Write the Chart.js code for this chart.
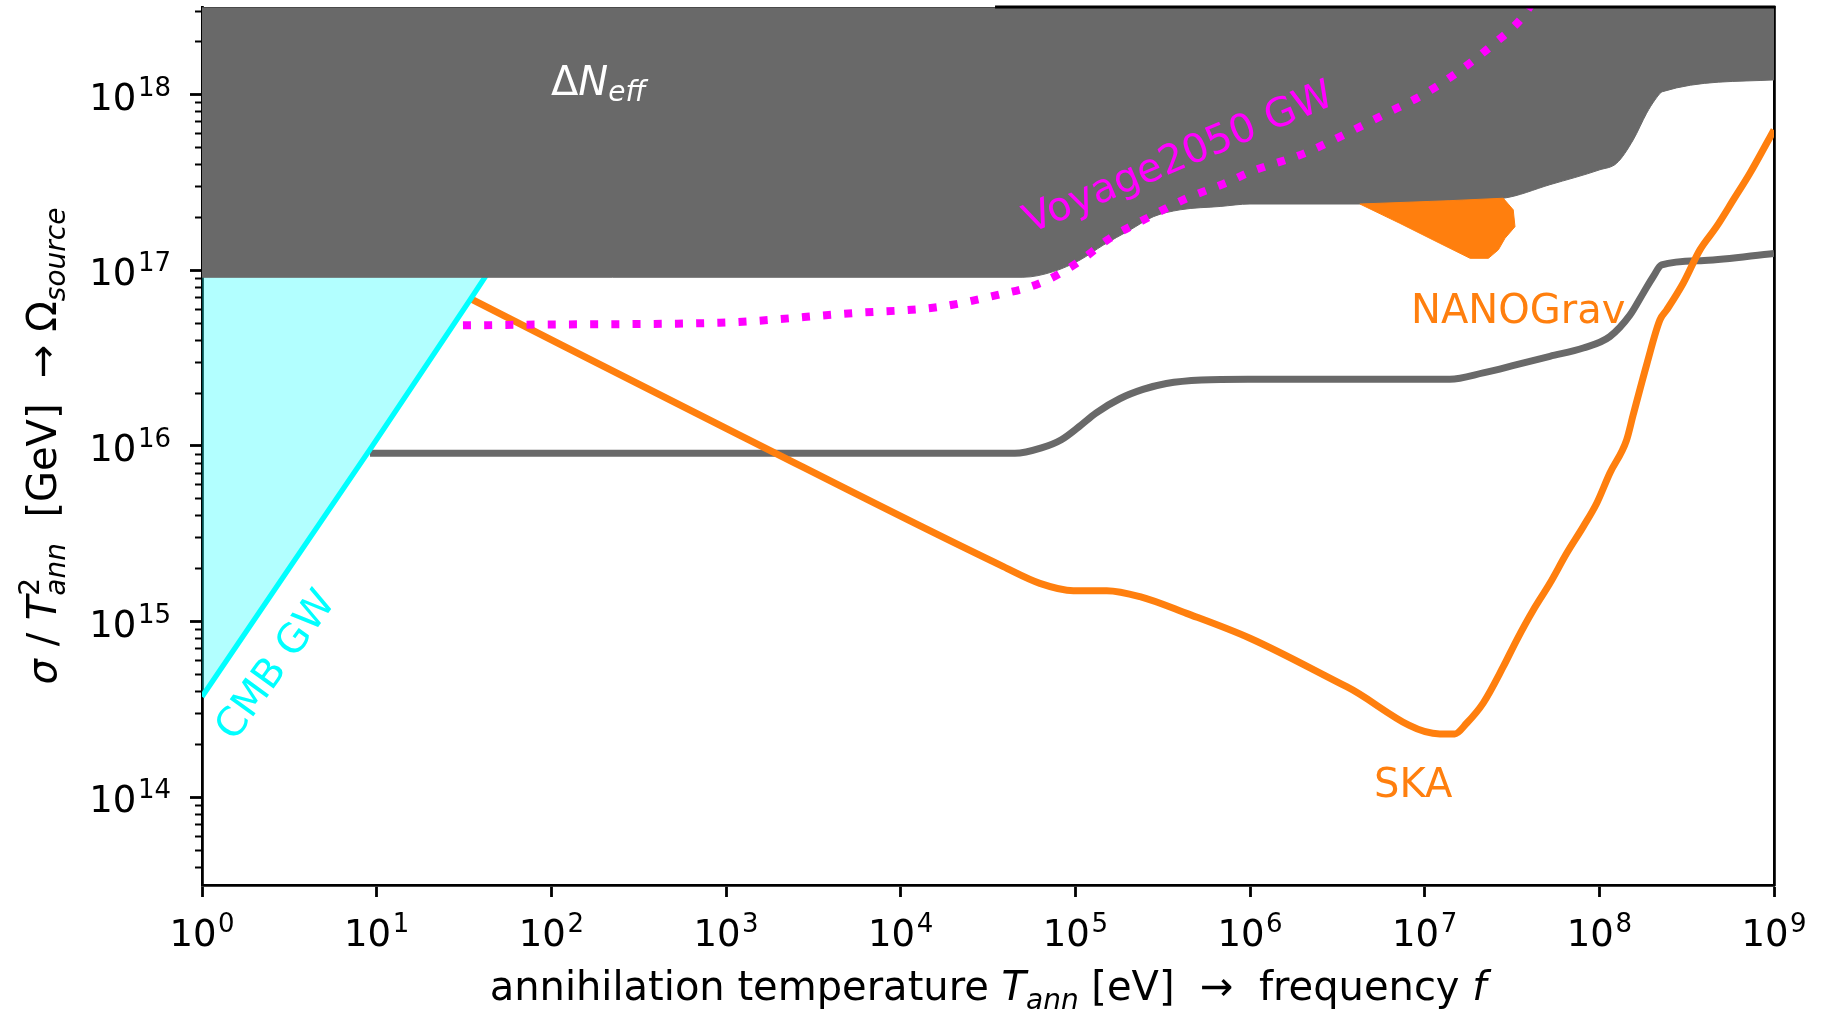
<!DOCTYPE html>
<html>
<head>
<meta charset="utf-8">
<title>Annihilation limits</title>
<script src="https://cdn.jsdelivr.net/npm/chart.js@4.4.1/dist/chart.umd.min.js"></script>
<style>
  html, body { margin: 0; padding: 0; background: #fff; }
  canvas { display: block; }
</style>
</head>
<body>
<canvas id="limits" width="1829" height="1013"></canvas>
<script>
// axes: annihilation temperature T_ann [eV] vs sigma / T_ann^2 [GeV]
const xRange = [1, 1e9];
const yRange = [3.162e13, 3.162e18];
const xTickValues = [1e0, 1e1, 1e2, 1e3, 1e4, 1e5, 1e6, 1e7, 1e8, 1e9];
const xTickLabels = ['0', '1', '2', '3', '4', '5', '6', '7', '8', '9'];
const yTickValues = [1e14, 1e15, 1e16, 1e17, 1e18];
const yTickLabels = ['14', '15', '16', '17', '18'];
const yMinorMantissas = [2, 3, 4, 5, 6, 7, 8, 9];

// Delta N_eff: lower edge of the excluded band (filled up to the top)
const nEffT = [1, 5.01e4, 7.48e4, 1.064e5, 1.445e5, 2.056e5, 2.799e5, 3.981e5, 6.745e5, 1e6,
  4.256e6, 1.393e7, 2.818e7, 5.212e7, 1.007e8, 1.256e8, 1.563e8, 1.866e8, 2.080e8, 2.301e8, 1e9];
const nEffSigma = [9.14e16, 9.14e16, 9.84e16, 1.146e17, 1.393e17, 1.698e17, 2.023e17, 2.213e17, 2.312e17, 2.388e17,
  2.388e17, 2.495e17, 2.576e17, 3.076e17, 3.741e17, 4.074e17, 5.534e17, 7.852e17, 9.333e17, 1.042e18, 1.216e18];

// CMB GW bound
const cmbT = [1, 3.162, 9.376, 34.20, 56.23];
const cmbSigma = [3.73e14, 2.018e15, 9.908e15, 6.776e16, 1.436e17];

// SKA sensitivity
const skaT = [35.08, 1202, 3.873e4, 6.266e4, 9.75e4, 1.514e5, 2.344e5, 4.335e5, 1e6, 3.573e6,
  1.222e7, 1.486e7, 1.738e7, 2.163e7, 2.818e7, 3.365e7, 4.188e7, 5.212e7, 6.501e7, 8.091e7,
  9.661e7, 1.148e8, 1.432e8, 1.563e8, 1.866e8, 2.223e8, 2.432e8, 3.02e8, 3.767e8, 4.688e8,
  5.848e8, 7.278e8, 1e9];
const skaSigma = [6.839e16, 1.15e16, 2.056e15, 1.652e15, 1.5e15, 1.5e15, 1.387e15, 1.114e15, 8.035e14, 4.256e14,
  2.291e14, 2.291e14, 2.636e14, 3.436e14, 5.534e14, 7.852e14, 1.164e15, 1.652e15, 2.449e15, 3.475e15,
  4.721e15, 7.0e15, 1.081e16, 1.507e16, 2.904e16, 5.224e16, 5.957e16, 8.453e16, 1.309e17, 1.774e17,
  2.518e17, 3.573e17, 6.31e17];

// Voyage2050 GW sensitivity
const voyageT = [31.19, 100, 922.6, 5358, 1.611e4, 3.548e4, 6.281e4, 1.019e5, 1.578e5, 2.673e5,
  4.345e5, 7.362e5, 1e6, 2.089e6, 3.491e6, 5.781e6, 9.572e6, 1.531e7, 2.377e7, 3.656e7, 4.169e7];
const voyageSigma = [4.864e16, 4.92e16, 5.035e16, 5.715e16, 6.166e16, 7.228e16, 8.453e16, 1.099e17, 1.524e17, 2.023e17,
  2.576e17, 3.162e17, 3.631e17, 4.677e17, 5.957e17, 7.674e17, 9.886e17, 1.337e18, 1.879e18, 2.786e18, 3.388e18];

// dim gray curve
const grayT = [9.16, 4.5e4, 6.397e4, 8.318e4, 1.047e5, 1.318e5, 1.795e5, 2.438e5, 3.319e5, 5.26e5,
  9.727e5, 1.393e7, 2.163e7, 3.365e7, 5.212e7, 8.091e7, 1.148e8, 1.496e8, 1.782e8, 2.032e8,
  2.275e8, 3.981e8, 1e9];
const graySigma = [9.08e15, 9.08e15, 9.75e15, 1.086e16, 1.285e16, 1.545e16, 1.858e16, 2.099e16, 2.27e16, 2.377e16,
  2.40e16, 2.40e16, 2.606e16, 2.904e16, 3.243e16, 3.614e16, 4.198e16, 5.559e16, 7.413e16, 9.204e16,
  1.074e17, 1.138e17, 1.25e17];

// NANOGrav region, upper and lower edge
const nanoUpperT = [4.256e6, 1.393e7, 2.818e7, 3.214e7, 3.289e7];
const nanoUpper = [2.388e17, 2.495e17, 2.576e17, 2.213e17, 1.774e17];
const nanoLowerT = [4.256e6, 7.211e6, 1.222e7, 1.820e7, 2.317e7, 2.642e7, 2.884e7, 3.289e7];
const nanoLower = [2.388e17, 1.854e17, 1.426e17, 1.172e17, 1.172e17, 1.309e17, 1.524e17, 1.774e17];

const ORANGE = '#ff7f0e';
const DIMGRAY = '#696969';
const FONT = '"DejaVu Sans"';

function points(xs, ys) {
    return xs.map((x, i) => ({ x: x, y: ys[i] }));
}

function minorTicks() {
    const ticks = [];
    for (let e = 13; e <= 18; e++) {
        yMinorMantissas.forEach(m => {
            const v = m * Math.pow(10, e);
            if (v >= yRange[0] && v <= yRange[1]) ticks.push({ value: v });
        });
    }
    return ticks;
}

function font(size, italic) {
    return (italic ? 'italic ' : '') + size + 'px ' + FONT;
}

// parts: [text, size, italic, dy, keep] - "keep" stacks the next part on top of this one
function richWidth(ctx, parts) {
    let w = 0, held = 0;
    parts.forEach(([t, size, italic, dy, keep]) => {
        ctx.font = font(size, italic);
        const tw = ctx.measureText(t).width;
        if (keep) { held = tw; return; }
        w += Math.max(tw, held);
        held = 0;
    });
    return w;
}

function drawRich(ctx, x, y, parts, align) {
    const w = richWidth(ctx, parts);
    let cx = align === 'center' ? x - w / 2 : (align === 'right' ? x - w : x);
    let held = 0;
    ctx.textAlign = 'left';
    ctx.textBaseline = 'alphabetic';
    parts.forEach(([t, size, italic, dy, keep]) => {
        ctx.font = font(size, italic);
        ctx.fillText(t, cx, y + (dy || 0));
        const tw = ctx.measureText(t).width;
        if (keep) { held = tw; return; }
        cx += Math.max(tw, held);
        held = 0;
    });
}

function powerLabel(exp) {
    return [['10', 37], ['\u2009', 8], [exp, 26, false, -14]];
}

const decorations = {
    id: 'decorations',
    afterDatasetsDraw(chart) {
        const ctx = chart.ctx;
        const area = chart.chartArea;
        const xs = chart.scales.x;
        ctx.save();

        // top spine
        const split = xs.getPixelForValue(3.47e4);
        ctx.strokeStyle = '#4a4a4a';
        ctx.lineWidth = 1.2;
        ctx.beginPath();
        ctx.moveTo(area.left, area.top + 0.5);
        ctx.lineTo(split, area.top + 0.5);
        ctx.stroke();
        ctx.strokeStyle = '#000';
        ctx.lineWidth = 2.8;
        ctx.beginPath();
        ctx.moveTo(split, area.top);
        ctx.lineTo(area.right + 1.4, area.top);
        ctx.stroke();

        // region labels
        ctx.fillStyle = '#fff';
        drawRich(ctx, 551, 95, [['\u0394', 40], ['N', 40, true], ['eff', 28, true, 6]], 'left');

        ctx.fillStyle = ORANGE;
        drawRich(ctx, 1411, 323, [['NANOGrav', 40]], 'left');
        drawRich(ctx, 1374, 797, [['SKA', 40]], 'left');

        ctx.font = font(40);
        ctx.textAlign = 'center';
        ctx.textBaseline = 'middle';

        ctx.fillStyle = '#ff00ff';
        ctx.save();
        ctx.translate(1179, 159);
        ctx.rotate(-23 * Math.PI / 180);
        ctx.fillText('Voyage2050 GW', 0, 0);
        ctx.restore();

        ctx.fillStyle = '#00ffff';
        ctx.save();
        ctx.translate(277, 666);
        ctx.rotate(-54 * Math.PI / 180);
        ctx.fillText('CMB GW', 0, 0);
        ctx.restore();

        ctx.restore();
    },
    afterDraw(chart) {
        const ctx = chart.ctx;
        const area = chart.chartArea;
        const xs = chart.scales.x;
        const ys = chart.scales.y;
        ctx.save();
        ctx.fillStyle = '#000';

        xTickValues.forEach((v, i) => {
            drawRich(ctx, xs.getPixelForValue(v), 946, powerLabel(xTickLabels[i]), 'center');
        });
        yTickValues.forEach((v, i) => {
            drawRich(ctx, 171, ys.getPixelForValue(v) + 15, powerLabel(yTickLabels[i]), 'right');
        });

        // axis titles
        drawRich(ctx, (area.left + area.right) / 2, 1000, [
            ['annihilation temperature ', 40],
            ['T', 40, true],
            ['ann', 28, true, 9],
            [' [eV]  \u2192  frequency ', 40],
            ['f', 40, true]
        ], 'center');

        ctx.save();
        ctx.translate(56, (area.top + area.bottom) / 2);
        ctx.rotate(-Math.PI / 2);
        drawRich(ctx, 0, 0, [
            ['\u03c3', 40, true],
            [' / ', 40],
            ['T', 40, true],
            ['2', 28, false, -17, true],
            ['ann', 28, true, 9],
            ['  [GeV]  \u2192 ', 40],
            ['\u03a9', 40],
            ['source', 28, true, 9]
        ], 'center');
        ctx.restore();

        ctx.restore();
    }
};

const hidden = { display: false };

new Chart(document.getElementById('limits').getContext('2d'), {
    type: 'line',
    data: {
        datasets: [
            {
                label: 'Voyage2050 GW',
                data: points(voyageT, voyageSigma),
                borderColor: '#ff00ff',
                borderWidth: 8,
                borderDash: [8, 13.2],
                cubicInterpolationMode: 'monotone',
                fill: false,
                clip: 0
            },
            {
                label: 'NANOGrav upper',
                data: points(nanoUpperT, nanoUpper),
                borderColor: ORANGE,
                borderWidth: 1,
                fill: false,
                clip: 0
            },
            {
                label: 'NANOGrav lower',
                data: points(nanoLowerT, nanoLower),
                borderColor: ORANGE,
                backgroundColor: ORANGE,
                borderWidth: 1,
                fill: '-1',
                clip: 0
            },
            {
                label: 'Delta N_eff',
                data: points(nEffT, nEffSigma),
                borderColor: DIMGRAY,
                backgroundColor: DIMGRAY,
                borderWidth: 1,
                cubicInterpolationMode: 'monotone',
                fill: 'end',
                clip: 0
            },
            {
                label: 'CMB GW',
                data: points(cmbT, cmbSigma),
                borderColor: '#00ffff',
                backgroundColor: 'rgba(0, 255, 255, 0.3)',
                borderWidth: 5.3,
                fill: 'end',
                clip: 0
            },
            {
                label: 'SKA',
                data: points(skaT, skaSigma),
                borderColor: ORANGE,
                borderWidth: 7,
                cubicInterpolationMode: 'monotone',
                fill: false,
                clip: 0
            },
            {
                label: 'dim gray',
                data: points(grayT, graySigma),
                borderColor: DIMGRAY,
                borderWidth: 7,
                cubicInterpolationMode: 'monotone',
                fill: false,
                clip: 0
            }
        ]
    },
    options: {
        responsive: false,
        animation: false,
        events: [],
        layout: { padding: { top: 7, right: 55, left: 0, bottom: 0 } },
        elements: {
            point: { radius: 0 },
            line: { borderJoinStyle: 'round' }
        },
        plugins: {
            legend: hidden,
            tooltip: { enabled: false }
        },
        scales: {
            x: {
                type: 'logarithmic',
                position: 'bottom',
                min: xRange[0],
                max: xRange[1],
                z: 1,
                afterBuildTicks: s => { s.ticks = xTickValues.map(v => ({ value: v })); },
                afterFit: s => { s.height = 128; },
                ticks: { display: false, autoSkip: false },
                grid: { drawOnChartArea: false, tickLength: 12, tickWidth: 2.8, tickColor: '#000' },
                border: { display: true, color: '#000', width: 2.8 }
            },
            y: {
                type: 'logarithmic',
                position: 'left',
                weight: 1,
                min: yRange[0],
                max: yRange[1],
                z: 1,
                afterBuildTicks: s => { s.ticks = yTickValues.map(v => ({ value: v })); },
                afterFit: s => { s.width = 202; },
                ticks: { display: false, autoSkip: false },
                grid: { drawOnChartArea: false, tickLength: 12, tickWidth: 2.8, tickColor: '#000' },
                border: { display: true, color: '#000', width: 2.8 }
            },
            yMinor: {
                type: 'logarithmic',
                position: 'left',
                weight: 0,
                min: yRange[0],
                max: yRange[1],
                z: 1,
                afterBuildTicks: s => { s.ticks = minorTicks(); },
                afterFit: s => { s.width = 0; },
                ticks: { display: false, autoSkip: false },
                grid: { drawOnChartArea: false, tickLength: 7, tickWidth: 2, tickColor: '#000' },
                border: hidden
            },
            yRight: {
                type: 'logarithmic',
                position: 'right',
                min: yRange[0],
                max: yRange[1],
                z: 1,
                afterFit: s => { s.width = 0; },
                ticks: hidden,
                grid: { drawOnChartArea: false, drawTicks: false },
                border: { display: true, color: '#000', width: 2.8 }
            }
        }
    },
    plugins: [decorations]
});
</script>
</body>
</html>
